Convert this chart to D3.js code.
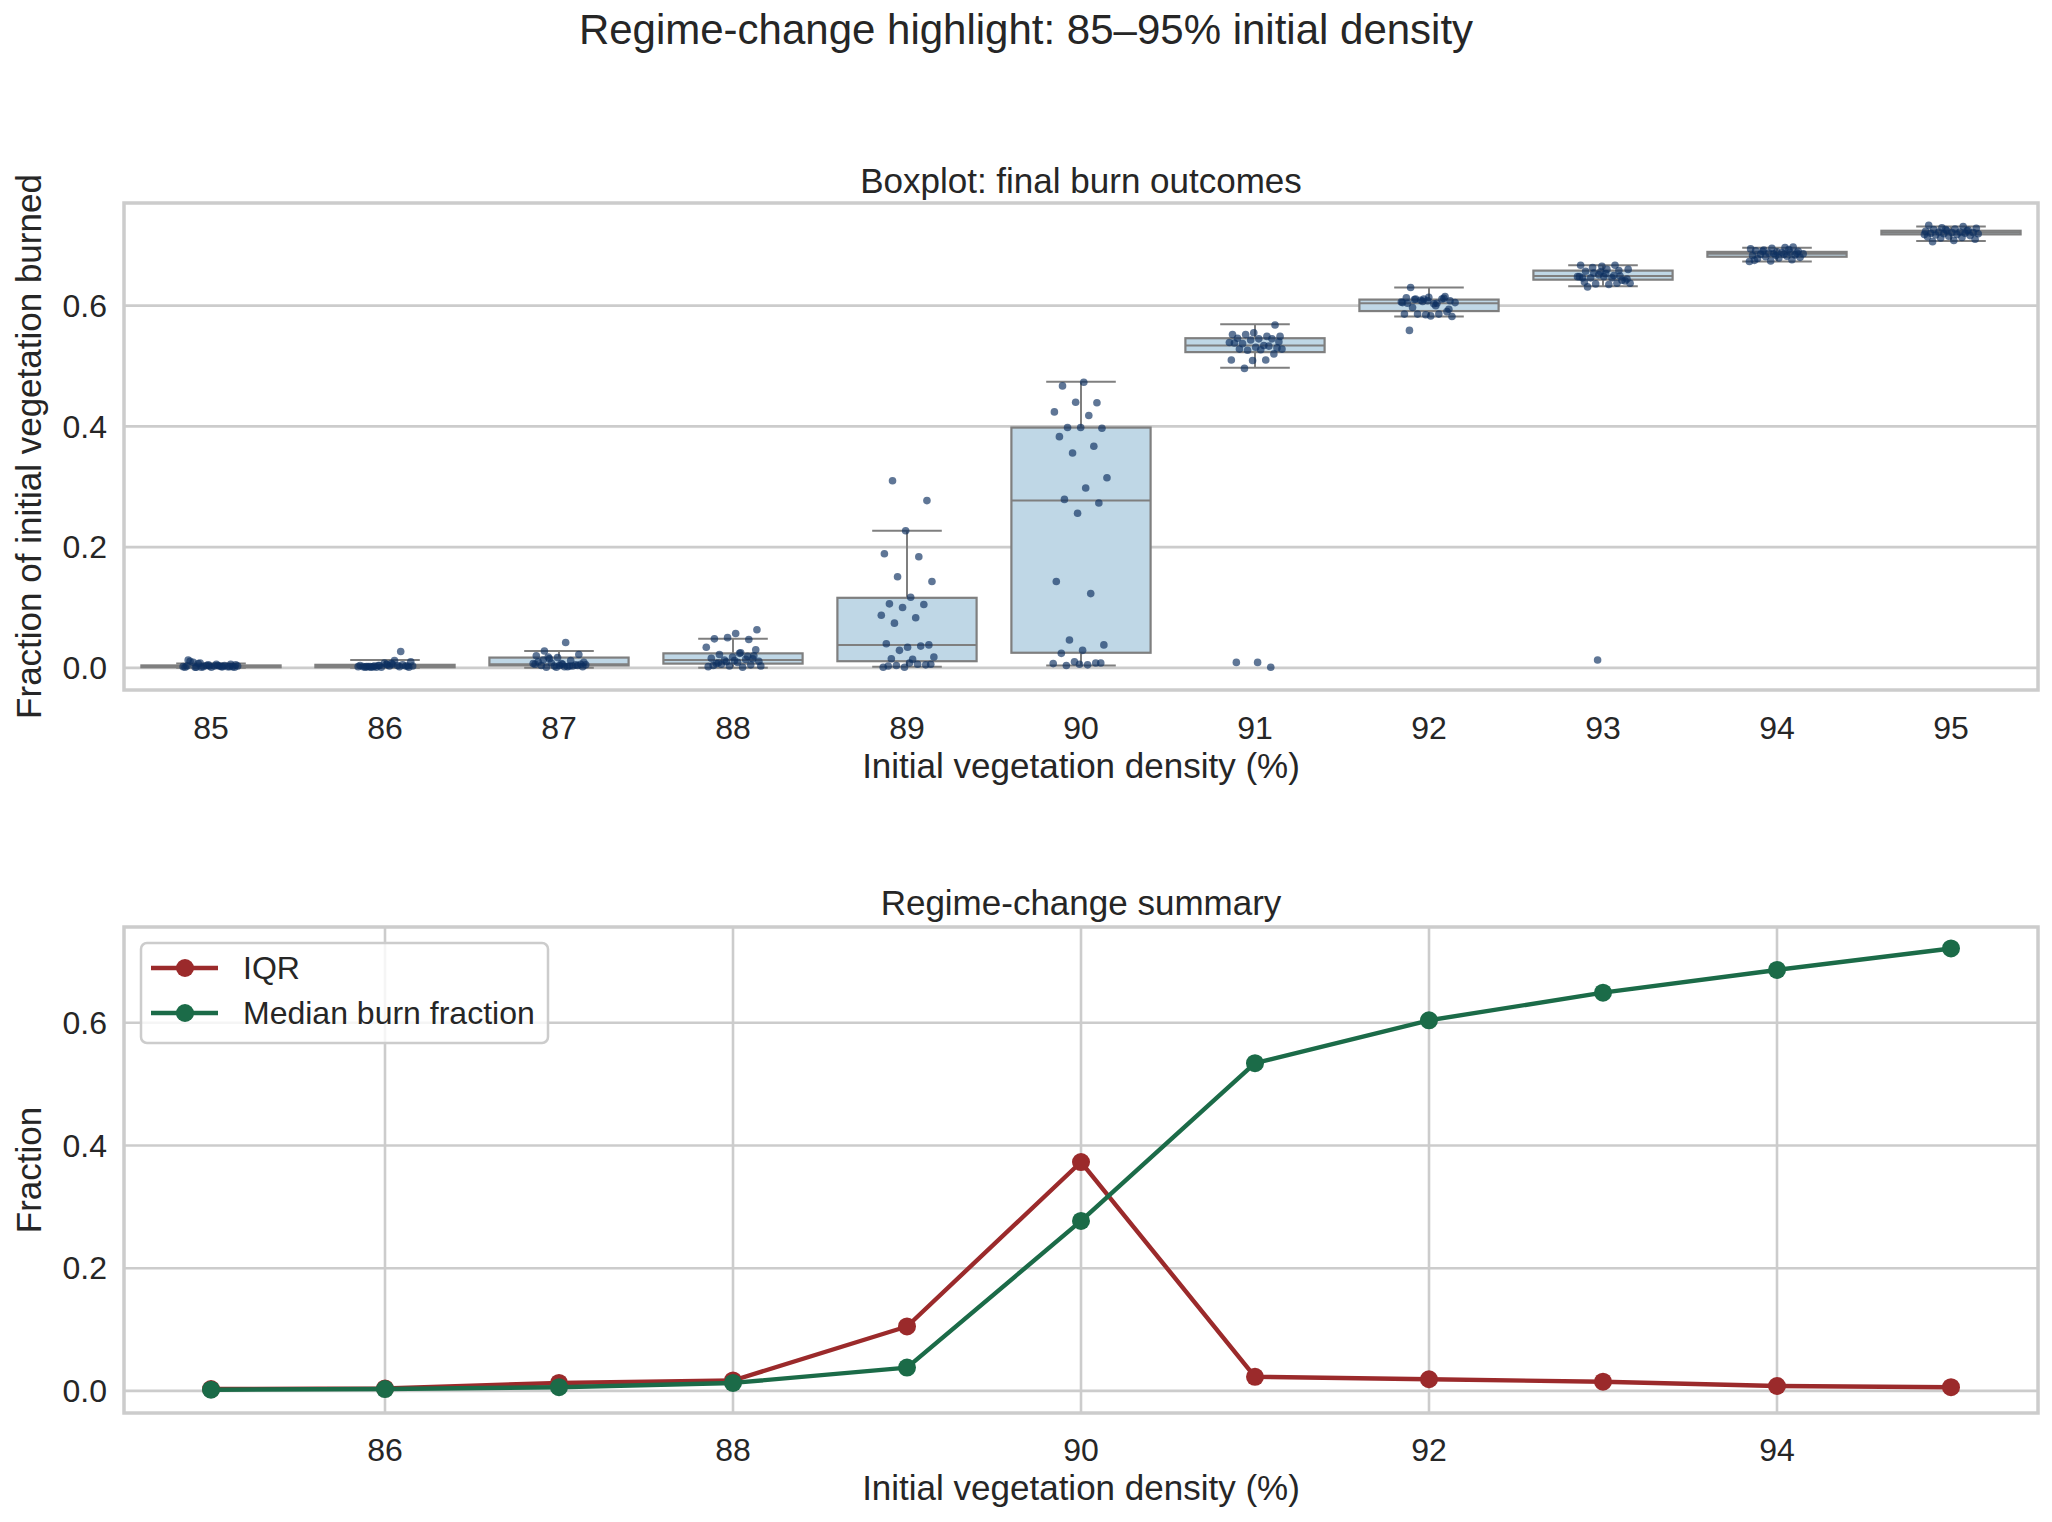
<!DOCTYPE html>
<html lang="en">
  <head>
    <meta charset="UTF-8" />
    <title>Regime-change highlight</title>
    <style>
      body { margin: 0; background: #fff; }
      text { font-family: "Liberation Sans", Arial, sans-serif; fill: #262626; }
    </style>
  </head>
  <body>
    <div id="chart"></div>
    <script src="https://cdn.jsdelivr.net/npm/d3@7/dist/d3.min.js"></script>
    <script>
      // densities (%)
      const densities = [85, 86, 87, 88, 89, 90, 91, 92, 93, 94, 95];

      // box stats
      const q1 = [0.001, 0.001, 0.004, 0.007, 0.011, 0.025, 0.523, 0.591, 0.643, 0.681, 0.718];
      const medians = [0.002, 0.003, 0.006, 0.013, 0.038, 0.277, 0.534, 0.604, 0.649, 0.686, 0.721];
      const q3 = [0.004, 0.005, 0.017, 0.024, 0.116, 0.398, 0.546, 0.610, 0.658, 0.689, 0.724];
      const whiskLo = [0.0, 0.0, 0.0, 0.0, 0.002, 0.004, 0.497, 0.582, 0.632, 0.673, 0.707];
      const whiskHi = [0.007, 0.013, 0.028, 0.048, 0.227, 0.474, 0.569, 0.630, 0.667, 0.696, 0.731];

      // individual run outcomes (strip points)
      const runs85 = [0.002,0.004,0.001,0.006,0.003,0.013,0.002,0.001,0.005,0.003,0.009,0.002,0.004,0.001,0.003,0.007,0.002,0.001,0.011,0.004,0.002,0.003,0.006,0.001,0.002,0.005,0.003,0.002,0.008,0.001];
      const runs86 = [0.003,0.001,0.005,0.002,0.027,0.004,0.002,0.006,0.001,0.003,0.008,0.002,0.004,0.001,0.010,0.003,0.002,0.005,0.001,0.004,0.012,0.002,0.003,0.006,0.001,0.002,0.004,0.003,0.007,0.002];
      const runs87 = [0.042,0.028,0.022,0.017,0.020,0.012,0.015,0.009,0.006,0.004,0.005,0.003,0.007,0.002,0.001,0.006,0.004,0.010,0.003,0.008,0.005,0.002,0.013,0.004,0.001,0.006,0.003,0.018,0.002,0.007];
      const runs88 = [0.063,0.057,0.048,0.047,0.050,0.034,0.025,0.022,0.020,0.018,0.016,0.014,0.013,0.011,0.009,0.007,0.005,0.003,0.002,0.001,0.006,0.030,0.012,0.004,0.019,0.010,0.003,0.024,0.008,0.015];
      const runs89 = [0.310,0.277,0.227,0.189,0.184,0.151,0.143,0.117,0.106,0.105,0.100,0.087,0.083,0.074,0.038,0.034,0.040,0.036,0.029,0.018,0.014,0.015,0.005,0.001,0.001,0.006,0.004,0.006,0.008,0.003];
      const runs90 = [0.473,0.467,0.439,0.440,0.424,0.418,0.398,0.397,0.398,0.383,0.367,0.356,0.315,0.298,0.279,0.273,0.256,0.143,0.123,0.046,0.038,0.029,0.024,0.008,0.010,0.007,0.005,0.004,0.008,0.006];
      const runs91 = [0.568,0.555,0.552,0.549,0.552,0.549,0.545,0.546,0.545,0.543,0.539,0.534,0.537,0.530,0.531,0.538,0.533,0.526,0.528,0.527,0.528,0.520,0.509,0.510,0.510,0.496,0.540,0.009,0.009,0.001];
      const runs92 = [0.630,0.615,0.611,0.605,0.604,0.611,0.608,0.614,0.604,0.611,0.609,0.605,0.603,0.597,0.590,0.585,0.586,0.586,0.586,0.582,0.583,0.559,0.612,0.607,0.606,0.600,0.610,0.594,0.608,0.613];
      const runs93 = [0.665,0.667,0.667,0.654,0.660,0.660,0.657,0.649,0.651,0.648,0.646,0.646,0.641,0.648,0.646,0.637,0.636,0.637,0.635,0.631,0.642,0.656,0.648,0.650,0.663,0.644,0.653,0.639,0.658,0.013];
      const runs94 = [0.697,0.695,0.694,0.696,0.692,0.690,0.689,0.691,0.688,0.687,0.686,0.688,0.685,0.684,0.686,0.683,0.682,0.681,0.680,0.679,0.678,0.676,0.674,0.673,0.685,0.690,0.687,0.683,0.675,0.693];
      const runs95 = [0.733,0.731,0.729,0.728,0.727,0.726,0.725,0.724,0.723,0.722,0.722,0.721,0.721,0.720,0.720,0.719,0.719,0.718,0.717,0.716,0.715,0.714,0.713,0.712,0.710,0.708,0.706,0.724,0.726,0.718];
      const runs = [runs85, runs86, runs87, runs88, runs89, runs90, runs91, runs92, runs93, runs94, runs95];

      const yTicks = [0.0, 0.2, 0.4, 0.6];
      const xTicksBottom = [86, 88, 90, 92, 94];

      const W = 2052, H = 1522;
      const left = 124, right = 2038;
      const gridCol = "#cccccc";
      const iqrCol = "#9b2a2b";
      const medCol = "#1b6b48";

      const svg = d3.select("#chart").append("svg")
        .attr("width", W).attr("height", H)
        .attr("viewBox", [0, 0, W, H]);

      svg.append("rect").attr("width", W).attr("height", H).attr("fill", "#fff");

      svg.append("text")
        .attr("x", W / 2).attr("y", 44)
        .attr("text-anchor", "middle")
        .attr("font-size", 42)
        .text("Regime-change highlight: 85\u201395% initial density");

      // ---------- top panel: boxplot ----------
      const top1 = 203, bot1 = 690;
      const x1 = d3.scaleBand().domain(densities).range([left, right]).padding(0);
      const y1 = d3.scaleLinear().domain([-0.0367, 0.77]).range([bot1, top1]);

      const g1 = svg.append("g");

      g1.selectAll(".hgrid").data(yTicks).join("line")
        .attr("x1", left).attr("x2", right)
        .attr("y1", d => y1(d)).attr("y2", d => y1(d))
        .attr("stroke", gridCol).attr("stroke-width", 2.6);

      const bw = x1.bandwidth();
      const boxW = bw * 0.8, capW = boxW * 0.5;
      const boxCol = "#7f7f7f";

      densities.forEach((d, i) => {
        const cx = x1(d) + bw / 2;
        const g = g1.append("g");
        // whiskers
        g.append("line").attr("x1", cx).attr("x2", cx)
          .attr("y1", y1(q3[i])).attr("y2", y1(whiskHi[i]))
          .attr("stroke", boxCol).attr("stroke-width", 2);
        g.append("line").attr("x1", cx).attr("x2", cx)
          .attr("y1", y1(q1[i])).attr("y2", y1(whiskLo[i]))
          .attr("stroke", boxCol).attr("stroke-width", 2);
        [whiskHi[i], whiskLo[i]].forEach(v => {
          g.append("line").attr("x1", cx - capW / 2).attr("x2", cx + capW / 2)
            .attr("y1", y1(v)).attr("y2", y1(v))
            .attr("stroke", boxCol).attr("stroke-width", 2);
        });
        g.append("rect")
          .attr("x", cx - boxW / 2).attr("width", boxW)
          .attr("y", y1(q3[i])).attr("height", Math.max(0.5, y1(q1[i]) - y1(q3[i])))
          .attr("fill", "#bfd7e6").attr("stroke", boxCol).attr("stroke-width", 2.2);
        g.append("line").attr("x1", cx - boxW / 2).attr("x2", cx + boxW / 2)
          .attr("y1", y1(medians[i])).attr("y2", y1(medians[i]))
          .attr("stroke", boxCol).attr("stroke-width", 2);
      });

      // strip points, deterministic jitter spread by index
      densities.forEach((d, i) => {
        const cx = x1(d) + bw / 2;
        g1.append("g").selectAll("circle").data(runs[i]).join("circle")
          .attr("cx", (v, j) => cx + (((j * 0.6180339887 + i * 0.31) % 1) - 0.5) * 0.32 * bw)
          .attr("cy", v => y1(v))
          .attr("r", 3.8)
          .attr("fill", "#0c2f5f")
          .attr("fill-opacity", 0.66);
      });

      g1.append("rect").attr("x", left).attr("y", top1)
        .attr("width", right - left).attr("height", bot1 - top1)
        .attr("fill", "none").attr("stroke", gridCol).attr("stroke-width", 3.5);

      g1.selectAll(".xt").data(densities).join("text")
        .attr("x", d => x1(d) + bw / 2).attr("y", 739)
        .attr("text-anchor", "middle").attr("font-size", 32)
        .text(d => d);
      g1.selectAll(".yt").data(yTicks).join("text")
        .attr("x", 107).attr("y", d => y1(d)).attr("dy", "0.35em")
        .attr("text-anchor", "end").attr("font-size", 32)
        .text(d => d3.format(".1f")(d));

      g1.append("text").attr("x", (left + right) / 2).attr("y", 193)
        .attr("text-anchor", "middle").attr("font-size", 35)
        .text("Boxplot: final burn outcomes");
      g1.append("text").attr("x", (left + right) / 2).attr("y", 778)
        .attr("text-anchor", "middle").attr("font-size", 35)
        .text("Initial vegetation density (%)");
      g1.append("text")
        .attr("transform", `translate(41,${(top1 + bot1) / 2}) rotate(-90)`)
        .attr("text-anchor", "middle").attr("font-size", 35)
        .text("Fraction of initial vegetation burned");

      // ---------- bottom panel: summary lines ----------
      const top2 = 927, bot2 = 1413;
      const x2 = d3.scaleLinear().domain([84.5, 95.5]).range([left, right]);
      const y2 = d3.scaleLinear().domain([-0.036, 0.756]).range([bot2, top2]);
      const iqr = q3.map((v, i) => v - q1[i]);

      const g2 = svg.append("g");
      g2.selectAll(".hg").data(yTicks).join("line")
        .attr("x1", left).attr("x2", right)
        .attr("y1", d => y2(d)).attr("y2", d => y2(d))
        .attr("stroke", gridCol).attr("stroke-width", 2.6);
      g2.selectAll(".vg").data(xTicksBottom).join("line")
        .attr("y1", top2).attr("y2", bot2)
        .attr("x1", d => x2(d)).attr("x2", d => x2(d))
        .attr("stroke", gridCol).attr("stroke-width", 2.6);

      const series = [
        { name: "IQR", values: iqr, color: iqrCol },
        { name: "Median burn fraction", values: medians, color: medCol }
      ];
      const line = d3.line().x((v, i) => x2(densities[i])).y(v => y2(v));

      series.forEach(s => {
        g2.append("path").attr("d", line(s.values))
          .attr("fill", "none").attr("stroke", s.color)
          .attr("stroke-width", 4.4).attr("stroke-linejoin", "round");
        g2.append("g").selectAll("circle").data(s.values).join("circle")
          .attr("cx", (v, i) => x2(densities[i])).attr("cy", v => y2(v))
          .attr("r", 9).attr("fill", s.color);
      });

      g2.append("rect").attr("x", left).attr("y", top2)
        .attr("width", right - left).attr("height", bot2 - top2)
        .attr("fill", "none").attr("stroke", gridCol).attr("stroke-width", 3.5);

      g2.selectAll(".xt").data(xTicksBottom).join("text")
        .attr("x", d => x2(d)).attr("y", 1461)
        .attr("text-anchor", "middle").attr("font-size", 32)
        .text(d => d);
      g2.selectAll(".yt").data(yTicks).join("text")
        .attr("x", 107).attr("y", d => y2(d)).attr("dy", "0.35em")
        .attr("text-anchor", "end").attr("font-size", 32)
        .text(d => d3.format(".1f")(d));

      g2.append("text").attr("x", (left + right) / 2).attr("y", 915)
        .attr("text-anchor", "middle").attr("font-size", 35)
        .text("Regime-change summary");
      g2.append("text").attr("x", (left + right) / 2).attr("y", 1500)
        .attr("text-anchor", "middle").attr("font-size", 35)
        .text("Initial vegetation density (%)");
      g2.append("text")
        .attr("transform", `translate(41,${(top2 + bot2) / 2}) rotate(-90)`)
        .attr("text-anchor", "middle").attr("font-size", 35)
        .text("Fraction");

      // legend
      const lg = g2.append("g").attr("transform", "translate(141,943)");
      lg.append("rect").attr("width", 407).attr("height", 100).attr("rx", 6)
        .attr("fill", "#fff").attr("fill-opacity", 0.8)
        .attr("stroke", gridCol).attr("stroke-width", 2.5);
      series.forEach((s, i) => {
        const yy = 25 + i * 45;
        lg.append("line").attr("x1", 10).attr("x2", 77).attr("y1", yy).attr("y2", yy)
          .attr("stroke", s.color).attr("stroke-width", 4.4);
        lg.append("circle").attr("cx", 44).attr("cy", yy).attr("r", 9).attr("fill", s.color);
        lg.append("text").attr("x", 102).attr("y", yy).attr("dy", "0.35em")
          .attr("font-size", 32).text(s.name);
      });
    </script>
  </body>
</html>
